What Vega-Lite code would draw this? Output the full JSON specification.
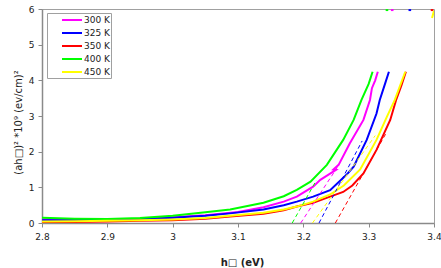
{
  "$schema": "https://vega.github.io/schema/vega-lite/v6.json",
  "width": 392,
  "height": 214,
  "autosize": {"type": "none"},
  "padding": {"left": 42, "top": 9, "right": 7, "bottom": 45},
  "background": "white",
  "config": {
    "view": {"stroke": "#a0a0a0", "strokeWidth": 1},
    "font": "DejaVu Sans",
    "axis": {
      "grid": false,
      "domainColor": "#8a8a8a",
      "domainWidth": 1.5,
      "tickColor": "#8a8a8a",
      "tickSize": 4,
      "labelFont": "DejaVu Sans",
      "labelFontSize": 9,
      "labelColor": "#222222",
      "titleFont": "DejaVu Sans",
      "titleColor": "#222222"
    }
  },
  "data": {
    "values": [
      {"s": "300 K", "k": "c", "i": 1, "x": 2.8, "y": 0.10},
      {"s": "300 K", "k": "c", "i": 2, "x": 2.85, "y": 0.09},
      {"s": "300 K", "k": "c", "i": 3, "x": 2.9, "y": 0.09},
      {"s": "300 K", "k": "c", "i": 4, "x": 2.95, "y": 0.12},
      {"s": "300 K", "k": "c", "i": 5, "x": 3.0, "y": 0.16},
      {"s": "300 K", "k": "c", "i": 6, "x": 3.05, "y": 0.22},
      {"s": "300 K", "k": "c", "i": 7, "x": 3.1, "y": 0.31},
      {"s": "300 K", "k": "c", "i": 8, "x": 3.139, "y": 0.44},
      {"s": "300 K", "k": "c", "i": 9, "x": 3.17, "y": 0.6},
      {"s": "300 K", "k": "c", "i": 10, "x": 3.19, "y": 0.74},
      {"s": "300 K", "k": "c", "i": 11, "x": 3.215, "y": 1.02},
      {"s": "300 K", "k": "c", "i": 12, "x": 3.226, "y": 1.21},
      {"s": "300 K", "k": "c", "i": 13, "x": 3.25, "y": 1.49},
      {"s": "300 K", "k": "c", "i": 14, "x": 3.246, "y": 1.5},
      {"s": "300 K", "k": "c", "i": 15, "x": 3.254, "y": 1.63},
      {"s": "300 K", "k": "c", "i": 16, "x": 3.271, "y": 2.23},
      {"s": "300 K", "k": "c", "i": 17, "x": 3.292, "y": 2.89},
      {"s": "300 K", "k": "c", "i": 18, "x": 3.302, "y": 3.45},
      {"s": "300 K", "k": "c", "i": 19, "x": 3.305, "y": 3.78},
      {"s": "300 K", "k": "c", "i": 20, "x": 3.31, "y": 4.0},
      {"s": "300 K", "k": "c", "i": 21, "x": 3.314, "y": 4.24},

      {"s": "325 K", "k": "c", "i": 1, "x": 2.8, "y": 0.08},
      {"s": "325 K", "k": "c", "i": 2, "x": 2.85, "y": 0.08},
      {"s": "325 K", "k": "c", "i": 3, "x": 2.9, "y": 0.09},
      {"s": "325 K", "k": "c", "i": 4, "x": 2.95, "y": 0.11},
      {"s": "325 K", "k": "c", "i": 5, "x": 3.0, "y": 0.15},
      {"s": "325 K", "k": "c", "i": 6, "x": 3.05, "y": 0.2},
      {"s": "325 K", "k": "c", "i": 7, "x": 3.088, "y": 0.27},
      {"s": "325 K", "k": "c", "i": 8, "x": 3.139, "y": 0.38},
      {"s": "325 K", "k": "c", "i": 9, "x": 3.17, "y": 0.5},
      {"s": "325 K", "k": "c", "i": 10, "x": 3.19, "y": 0.6},
      {"s": "325 K", "k": "c", "i": 11, "x": 3.215, "y": 0.74},
      {"s": "325 K", "k": "c", "i": 12, "x": 3.241, "y": 0.92},
      {"s": "325 K", "k": "c", "i": 13, "x": 3.266, "y": 1.35},
      {"s": "325 K", "k": "c", "i": 14, "x": 3.277, "y": 1.58},
      {"s": "325 K", "k": "c", "i": 15, "x": 3.297, "y": 2.33},
      {"s": "325 K", "k": "c", "i": 16, "x": 3.312, "y": 3.07},
      {"s": "325 K", "k": "c", "i": 17, "x": 3.317, "y": 3.45},
      {"s": "325 K", "k": "c", "i": 18, "x": 3.325, "y": 3.9},
      {"s": "325 K", "k": "c", "i": 19, "x": 3.331, "y": 4.24},

      {"s": "350 K", "k": "c", "i": 1, "x": 2.8, "y": 0.02},
      {"s": "350 K", "k": "c", "i": 2, "x": 2.85, "y": 0.03},
      {"s": "350 K", "k": "c", "i": 3, "x": 2.9, "y": 0.04},
      {"s": "350 K", "k": "c", "i": 4, "x": 2.95, "y": 0.06},
      {"s": "350 K", "k": "c", "i": 5, "x": 3.0, "y": 0.08},
      {"s": "350 K", "k": "c", "i": 6, "x": 3.05, "y": 0.12},
      {"s": "350 K", "k": "c", "i": 7, "x": 3.088, "y": 0.18},
      {"s": "350 K", "k": "c", "i": 8, "x": 3.139, "y": 0.26},
      {"s": "350 K", "k": "c", "i": 9, "x": 3.17, "y": 0.36},
      {"s": "350 K", "k": "c", "i": 10, "x": 3.19, "y": 0.46},
      {"s": "350 K", "k": "c", "i": 11, "x": 3.215, "y": 0.57},
      {"s": "350 K", "k": "c", "i": 12, "x": 3.241, "y": 0.74},
      {"s": "350 K", "k": "c", "i": 13, "x": 3.261, "y": 0.87},
      {"s": "350 K", "k": "c", "i": 14, "x": 3.275, "y": 1.05},
      {"s": "350 K", "k": "c", "i": 15, "x": 3.292, "y": 1.39},
      {"s": "350 K", "k": "c", "i": 16, "x": 3.312, "y": 2.05},
      {"s": "350 K", "k": "c", "i": 17, "x": 3.333, "y": 2.89},
      {"s": "350 K", "k": "c", "i": 18, "x": 3.342, "y": 3.45},
      {"s": "350 K", "k": "c", "i": 19, "x": 3.35, "y": 3.85},
      {"s": "350 K", "k": "c", "i": 20, "x": 3.357, "y": 4.24},

      {"s": "400 K", "k": "c", "i": 1, "x": 2.8, "y": 0.15},
      {"s": "400 K", "k": "c", "i": 2, "x": 2.85, "y": 0.12},
      {"s": "400 K", "k": "c", "i": 3, "x": 2.9, "y": 0.11},
      {"s": "400 K", "k": "c", "i": 4, "x": 2.95, "y": 0.14},
      {"s": "400 K", "k": "c", "i": 5, "x": 3.0, "y": 0.2},
      {"s": "400 K", "k": "c", "i": 6, "x": 3.05, "y": 0.3},
      {"s": "400 K", "k": "c", "i": 7, "x": 3.088, "y": 0.38},
      {"s": "400 K", "k": "c", "i": 8, "x": 3.139, "y": 0.57},
      {"s": "400 K", "k": "c", "i": 9, "x": 3.17, "y": 0.75},
      {"s": "400 K", "k": "c", "i": 10, "x": 3.19, "y": 0.93},
      {"s": "400 K", "k": "c", "i": 11, "x": 3.211, "y": 1.16},
      {"s": "400 K", "k": "c", "i": 12, "x": 3.236, "y": 1.63},
      {"s": "400 K", "k": "c", "i": 13, "x": 3.261, "y": 2.33},
      {"s": "400 K", "k": "c", "i": 14, "x": 3.277, "y": 2.89},
      {"s": "400 K", "k": "c", "i": 15, "x": 3.289, "y": 3.45},
      {"s": "400 K", "k": "c", "i": 16, "x": 3.3, "y": 3.9},
      {"s": "400 K", "k": "c", "i": 17, "x": 3.306, "y": 4.24},

      {"s": "450 K", "k": "c", "i": 1, "x": 2.8, "y": 0.04},
      {"s": "450 K", "k": "c", "i": 2, "x": 2.85, "y": 0.05},
      {"s": "450 K", "k": "c", "i": 3, "x": 2.9, "y": 0.06},
      {"s": "450 K", "k": "c", "i": 4, "x": 2.95, "y": 0.08},
      {"s": "450 K", "k": "c", "i": 5, "x": 3.0, "y": 0.1},
      {"s": "450 K", "k": "c", "i": 6, "x": 3.05, "y": 0.14},
      {"s": "450 K", "k": "c", "i": 7, "x": 3.088, "y": 0.2},
      {"s": "450 K", "k": "c", "i": 8, "x": 3.139, "y": 0.29},
      {"s": "450 K", "k": "c", "i": 9, "x": 3.17, "y": 0.38},
      {"s": "450 K", "k": "c", "i": 10, "x": 3.19, "y": 0.46},
      {"s": "450 K", "k": "c", "i": 11, "x": 3.215, "y": 0.6},
      {"s": "450 K", "k": "c", "i": 12, "x": 3.241, "y": 0.8},
      {"s": "450 K", "k": "c", "i": 13, "x": 3.262, "y": 1.05},
      {"s": "450 K", "k": "c", "i": 14, "x": 3.287, "y": 1.5},
      {"s": "450 K", "k": "c", "i": 15, "x": 3.312, "y": 2.33},
      {"s": "450 K", "k": "c", "i": 16, "x": 3.328, "y": 2.98},
      {"s": "450 K", "k": "c", "i": 17, "x": 3.34, "y": 3.45},
      {"s": "450 K", "k": "c", "i": 18, "x": 3.356, "y": 4.24},

      {"s": "300 K", "k": "f", "i": 1, "x": 3.196, "y": 0},
      {"s": "300 K", "k": "f", "i": 2, "x": 3.252, "y": 1.56},
      {"s": "325 K", "k": "f", "i": 1, "x": 3.224, "y": 0},
      {"s": "325 K", "k": "f", "i": 2, "x": 3.29, "y": 2.3},
      {"s": "350 K", "k": "f", "i": 1, "x": 3.249, "y": 0},
      {"s": "350 K", "k": "f", "i": 2, "x": 3.328, "y": 2.56},
      {"s": "400 K", "k": "f", "i": 1, "x": 3.183, "y": 0},
      {"s": "400 K", "k": "f", "i": 2, "x": 3.22, "y": 1.2},
      {"s": "450 K", "k": "f", "i": 1, "x": 3.214, "y": 0},
      {"s": "450 K", "k": "f", "i": 2, "x": 3.31, "y": 2.45},

      {"s": "300 K", "k": "t", "i": 1, "x": 3.334, "y": 5.97},
      {"s": "300 K", "k": "t", "i": 2, "x": 3.338, "y": 5.97},
      {"s": "325 K", "k": "t", "i": 1, "x": 3.361, "y": 5.97},
      {"s": "325 K", "k": "t", "i": 2, "x": 3.365, "y": 5.97},
      {"s": "350 K", "k": "t", "i": 1, "x": 3.395, "y": 5.97},
      {"s": "350 K", "k": "t", "i": 2, "x": 3.399, "y": 5.97},
      {"s": "400 K", "k": "t", "i": 1, "x": 3.326, "y": 5.97},
      {"s": "400 K", "k": "t", "i": 2, "x": 3.330, "y": 5.97},
      {"s": "450 K", "k": "t", "i": 1, "x": 3.397, "y": 5.75},
      {"s": "450 K", "k": "t", "i": 2, "x": 3.4, "y": 5.95}
    ]
  },
  "encoding": {
    "x": {
      "field": "x",
      "type": "quantitative",
      "scale": {"domain": [2.8, 3.4], "nice": false, "zero": false},
      "axis": {
        "values": [2.8, 2.9, 3.0, 3.1, 3.2, 3.3, 3.4],
        "format": "~g",
        "labelFlush": false,
        "labelPadding": 5,
        "title": "h□ (eV)",
        "titleFontSize": 10,
        "titleFontWeight": "bold",
        "titleX": 200,
        "titleY": 39,
        "titleBaseline": "middle"
      }
    },
    "y": {
      "field": "y",
      "type": "quantitative",
      "scale": {"domain": [0, 6], "nice": false},
      "axis": {
        "values": [0, 1, 2, 3, 4, 5, 6],
        "format": "d",
        "labelFlush": false,
        "labelPadding": 4,
        "title": "(ah□)²  *10⁹  (ev/cm)²",
        "titleFontSize": 10,
        "titleFontWeight": "normal",
        "titleX": -24,
        "titleY": 113,
        "titleBaseline": "middle"
      }
    },
    "order": {"field": "i", "type": "quantitative"}
  },
  "layer": [
    {
      "transform": [{"filter": "datum.k == 'c'"}],
      "mark": {"type": "line", "strokeWidth": 2, "clip": true},
      "encoding": {
        "color": {
          "field": "s",
          "type": "nominal",
          "scale": {
            "domain": ["300 K", "325 K", "350 K", "400 K", "450 K"],
            "range": ["#FF00FF", "#0000FF", "#FF0000", "#00FF00", "#FFFF00"]
          },
          "legend": {
            "title": null,
            "orient": "none",
            "legendX": 5,
            "legendY": 4,
            "strokeColor": "#a0a0a0",
            "fillColor": "white",
            "padding": 1,
            "symbolType": "M-2,0H2",
            "symbolSize": 100,
            "symbolStrokeWidth": 2,
            "symbolOffset": 18,
            "labelFont": "DejaVu Sans",
            "labelFontSize": 9,
            "labelColor": "#222222",
            "labelOffset": 6,
            "rowPadding": 2
          }
        }
      }
    },
    {
      "transform": [{"filter": "datum.k == 'f'"}],
      "mark": {"type": "line", "strokeWidth": 1, "strokeDash": [4, 3], "clip": true},
      "encoding": {"color": {"field": "s", "type": "nominal", "legend": null}}
    },
    {
      "transform": [{"filter": "datum.k == 't'"}],
      "mark": {"type": "line", "strokeWidth": 2, "clip": true},
      "encoding": {"color": {"field": "s", "type": "nominal", "legend": null}}
    }
  ]
}
